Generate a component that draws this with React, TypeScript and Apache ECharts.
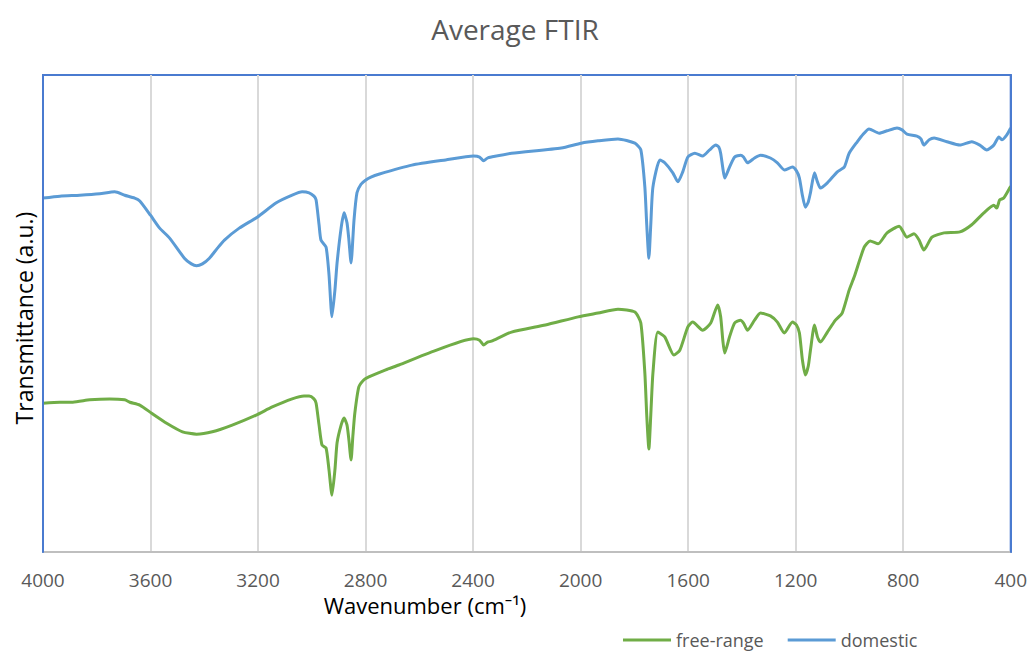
import React, { useEffect, useRef } from "react";
import * as echarts from "echarts";

// Wavenumbers (cm-1) and transmittance (a.u.)
const domesticWave = [4000, 3937, 3863, 3789, 3733, 3696, 3659, 3640, 3600, 3566, 3529, 3474, 3448, 3429, 3407, 3381, 3351, 3325, 3270, 3203, 3132, 3073, 3036, 3010, 2992, 2984, 2973, 2966, 2947, 2936, 2925, 2914, 2906, 2891, 2880, 2869, 2862, 2854, 2843, 2832, 2817, 2799, 2780, 2751, 2628, 2502, 2398, 2376, 2361, 2346, 2332, 2257, 2072, 1998, 1935, 1861, 1798, 1776, 1761, 1754, 1746, 1739, 1731, 1705, 1687, 1657, 1638, 1620, 1601, 1575, 1546, 1520, 1497, 1486, 1479, 1471, 1464, 1446, 1427, 1405, 1394, 1379, 1353, 1331, 1294, 1268, 1242, 1212, 1197, 1186, 1175, 1164, 1153, 1145, 1130, 1119, 1108, 1082, 1045, 1019, 1001, 971, 949, 927, 889, 860, 823, 804, 786, 749, 734, 723, 704, 685, 637, 589, 545, 515, 489, 463, 444, 433, 415, 400];
const domesticValues = [74.2, 74.6, 74.8, 75.1, 75.5, 74.8, 74.2, 73.6, 70.6, 67.9, 65.8, 61.6, 60.4, 60.0, 60.4, 61.6, 63.7, 65.4, 67.9, 70.2, 73.2, 74.8, 75.5, 75.3, 74.6, 73.8, 68.6, 65.4, 63.9, 58.1, 49.3, 54.9, 60.6, 67.9, 71.1, 69.0, 65.4, 60.6, 69.6, 75.3, 77.1, 78.0, 78.6, 79.2, 81.1, 82.2, 83.0, 82.8, 82.0, 82.6, 82.8, 83.6, 84.7, 85.7, 86.2, 86.6, 85.7, 84.3, 76.5, 68.6, 61.6, 68.6, 76.5, 82.2, 81.6, 79.5, 77.6, 79.7, 82.8, 83.6, 83.0, 84.3, 85.3, 84.9, 83.6, 80.5, 78.4, 80.7, 82.8, 83.2, 82.8, 81.6, 82.6, 83.2, 82.6, 81.6, 80.1, 80.7, 79.9, 78.4, 74.8, 72.3, 73.4, 75.3, 79.5, 77.6, 76.3, 77.4, 79.7, 80.7, 83.6, 86.0, 87.6, 88.7, 87.8, 88.3, 88.9, 88.5, 87.6, 87.2, 86.6, 85.3, 86.4, 86.8, 86.0, 85.3, 86.0, 85.3, 84.3, 85.3, 87.0, 86.4, 87.4, 88.9];

const freeRangeWave = [4000, 3937, 3889, 3826, 3752, 3696, 3677, 3640, 3596, 3540, 3481, 3429, 3370, 3296, 3207, 3147, 3073, 3029, 3010, 2992, 2984, 2973, 2962, 2947, 2936, 2925, 2914, 2906, 2891, 2880, 2869, 2862, 2854, 2847, 2840, 2825, 2806, 2788, 2725, 2676, 2565, 2398, 2376, 2361, 2346, 2332, 2257, 2131, 2009, 1935, 1861, 1798, 1776, 1761, 1754, 1746, 1739, 1731, 1713, 1687, 1653, 1631, 1601, 1583, 1546, 1516, 1490, 1479, 1471, 1464, 1446, 1427, 1405, 1394, 1379, 1353, 1331, 1294, 1268, 1242, 1212, 1197, 1186, 1175, 1164, 1153, 1145, 1130, 1119, 1108, 1082, 1052, 1027, 1001, 982, 945, 923, 893, 860, 815, 786, 760, 741, 723, 693, 648, 589, 545, 500, 463, 452, 441, 426, 404, 400];
const freeRangeValues = [31.2, 31.4, 31.4, 31.9, 32.1, 31.9, 31.4, 30.8, 29.1, 27.0, 25.2, 24.7, 25.2, 26.6, 28.7, 30.4, 32.1, 32.7, 32.7, 32.1, 31.2, 26.6, 22.4, 21.8, 17.2, 11.9, 17.2, 22.9, 26.6, 28.1, 26.6, 23.5, 19.3, 24.5, 29.1, 34.6, 36.1, 36.7, 38.2, 39.2, 41.7, 44.7, 44.4, 43.4, 44.0, 44.2, 46.1, 47.6, 49.3, 50.1, 50.9, 50.3, 48.0, 37.5, 28.7, 21.6, 28.7, 37.5, 46.1, 45.1, 41.3, 42.3, 47.2, 48.2, 46.5, 48.0, 51.8, 49.3, 44.4, 41.7, 45.1, 48.0, 48.6, 48.0, 46.5, 48.6, 50.1, 49.5, 48.2, 45.9, 48.2, 47.6, 45.9, 40.3, 37.1, 39.0, 42.3, 47.6, 45.1, 44.0, 46.1, 48.6, 50.1, 54.9, 57.7, 63.9, 65.2, 64.6, 66.9, 68.3, 66.0, 66.7, 65.4, 63.3, 66.0, 66.9, 67.1, 68.6, 71.1, 72.7, 72.1, 73.8, 74.2, 76.3, 76.7];

const xTicks = [4000, 3600, 3200, 2800, 2400, 2000, 1600, 1200, 800, 400];

const seriesNames = ["free-range", "domestic"];
const seriesColors = ["#70ad47", "#5b9bd5"];

const titleText = "Average FTIR";
const xAxisTitle = "Wavenumber (cm⁻¹)";
const yAxisTitle = "Transmittance (a.u.)";

const FONT = "'Open Sans', 'Noto Sans', sans-serif";
const FRAME = "#4a7bd0";

export default function App() {
  const ref = useRef<HTMLDivElement>(null);

  useEffect(() => {
    if (!ref.current) return;
    const chart = echarts.init(ref.current, null, { renderer: "svg" });
    const pair = (w: number[], v: number[]) => w.map((x, i) => [x, v[i]]);
    const frameAxis = (position: string) => ({
      type: "value",
      position,
      min: 0,
      max: 100,
      z: 10,
      axisLine: { show: true, lineStyle: { color: FRAME, width: 2 } },
      axisTick: { show: false },
      axisLabel: { show: false },
      splitLine: { show: false },
    });
    chart.setOption({
      animation: false,
      backgroundColor: "#ffffff",
      textStyle: { fontFamily: FONT },
      title: {
        text: titleText,
        left: "center",
        top: 10,
        textStyle: { fontFamily: FONT, fontSize: 28, fontWeight: "normal", color: "#595959" },
      },
      legend: {
        left: 618,
        top: 626,
        itemWidth: 48,
        itemHeight: 3,
        itemGap: 24,
        icon: "rect",
        data: seriesNames,
        textStyle: { fontFamily: FONT, fontSize: 18, color: "#595959" },
      },
      graphic: [
        {
          type: "text",
          x: 425,
          y: 605,
          style: {
            text: xAxisTitle,
            fontFamily: FONT,
            fontSize: 22,
            fill: "#000000",
            align: "center",
            verticalAlign: "middle",
          },
        },
        {
          type: "text",
          x: 24,
          y: 318,
          rotation: Math.PI / 2,
          style: {
            text: yAxisTitle,
            fontFamily: FONT,
            fontSize: 23,
            fill: "#000000",
            align: "center",
            verticalAlign: "middle",
          },
        },
      ],
      grid: {
        left: 43,
        right: 16,
        top: 75,
        bottom: 99,
        show: true,
        borderColor: FRAME,
        borderWidth: 2,
      },
      xAxis: {
        type: "value",
        inverse: true,
        min: 400,
        max: 4000,
        interval: 400,
        axisLine: { show: true, lineStyle: { color: "#bfbfbf", width: 2 } },
        axisTick: { show: false },
        axisLabel: {
          showMinLabel: true,
          showMaxLabel: true,
          margin: 18,
          fontFamily: FONT,
          fontSize: 19,
          color: "#595959",
          formatter: (v: number) => (xTicks.includes(v) ? String(v) : ""),
        },
        splitLine: { show: true, lineStyle: { color: "#d9d9d9", width: 2 } },
      },
      yAxis: [frameAxis("left"), frameAxis("right")],
      series: [
        {
          name: seriesNames[0],
          type: "line",
          data: pair(freeRangeWave, freeRangeValues),
          showSymbol: false,
          smooth: 0.2,
          lineStyle: { color: seriesColors[0], width: 3 },
          itemStyle: { color: seriesColors[0] },
        },
        {
          name: seriesNames[1],
          type: "line",
          data: pair(domesticWave, domesticValues),
          showSymbol: false,
          smooth: 0.2,
          lineStyle: { color: seriesColors[1], width: 3 },
          itemStyle: { color: seriesColors[1] },
        },
      ],
    });
    return () => chart.dispose();
  }, []);

  return (
    <div
      ref={ref}
      style={{ position: "fixed", left: 0, top: 0, width: 1030, height: 651 }}
    />
  );
}
